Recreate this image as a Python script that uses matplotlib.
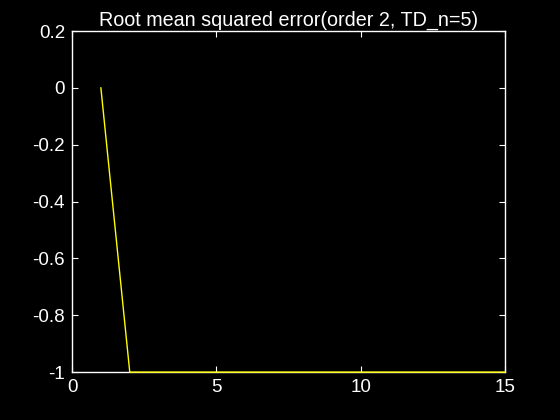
import numpy as np
import matplotlib
matplotlib.use("Agg")
import matplotlib.pyplot as plt

plt.rcParams['font.family'] = ['Liberation Sans', 'DejaVu Sans']

# data
iters = [1, 2, 3, 4, 5, 6, 7, 8, 9, 10, 11, 12, 13, 14, 15]
rmse = [0, -1, -1, -1, -1, -1, -1, -1, -1, -1, -1, -1, -1, -1, -1]
xticks = [0, 5, 10, 15]
yticks = [-1, -0.8, -0.6, -0.4, -0.2, 0, 0.2]
ylabels = ["-1", "-0.8", "-0.6", "-0.4", "-0.2", "0", "0.2"]

fig = plt.figure(figsize=(5.6, 4.2), dpi=100, facecolor="black")
ax = fig.add_axes([0.1286, 0.114, 0.7734, 0.812], facecolor="black")

# line drawn above the spines, like the reference
ax.plot(iters, rmse, color="yellow", lw=1, zorder=3, clip_on=False)

ax.set_xlim(0, 15)
ax.set_ylim(-1, 0.2)
ax.set_xticks(xticks)
ax.set_yticks(yticks)
ax.set_yticklabels(ylabels)
ax.set_title("Root mean squared error(order 2, TD_n=5)", color="white", fontsize=14.2, pad=4)

for s in ax.spines.values():
    s.set_color("white")
    s.set_linewidth(1)
ax.tick_params(colors="white", direction="in", labelsize=13.5, length=4,
               top=True, right=True, pad=5)

fig.savefig("out.png", dpi=100, facecolor="black")
